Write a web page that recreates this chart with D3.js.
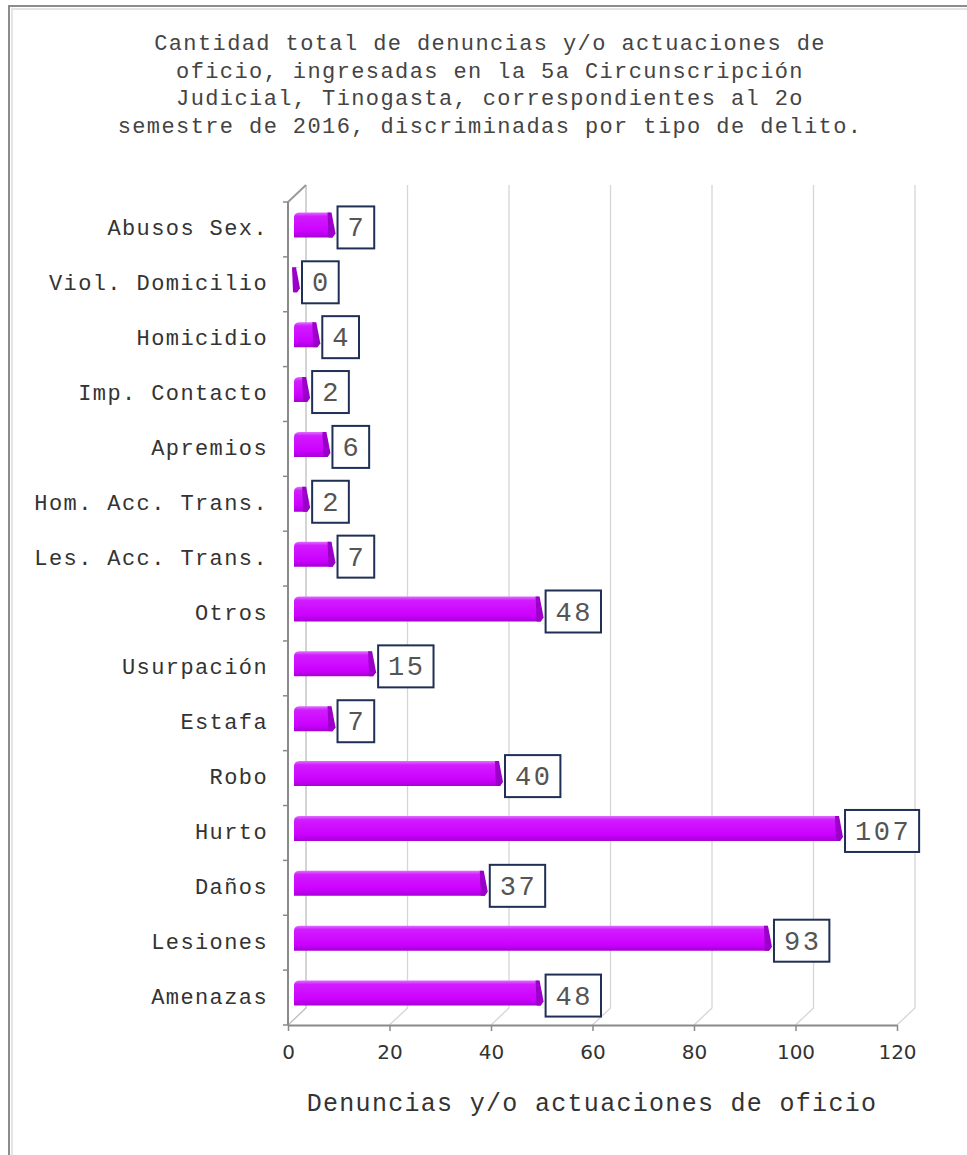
<!DOCTYPE html>
<html>
<head>
<meta charset="utf-8">
<script src="https://cdn.jsdelivr.net/npm/d3@7"></script>
<style>
  body { margin: 0; background: #fff; }
  svg { display: block; }
</style>
</head>
<body>
<div id="chart"></div>
<script>
// data (top to bottom)
const categories = [
  "Abusos Sex.", "Viol. Domicilio", "Homicidio", "Imp. Contacto", "Apremios",
  "Hom. Acc. Trans.", "Les. Acc. Trans.", "Otros", "Usurpación", "Estafa",
  "Robo", "Hurto", "Daños", "Lesiones", "Amenazas"
];
const values = [7, 0, 4, 2, 6, 2, 7, 48, 15, 7, 40, 107, 37, 93, 48];
const xTicks = [0, 20, 40, 60, 80, 100, 120];
const titleLines = [
  "Cantidad total de denuncias y/o actuaciones de",
  "oficio, ingresadas en la 5a Circunscripción",
  "Judicial, Tinogasta, correspondientes al 2o",
  "semestre de 2016, discriminadas por tipo de delito."
];
const xTitle = "Denuncias y/o actuaciones de oficio";

const width = 967, height = 1155;
const mono = "'Liberation Mono', 'DejaVu Sans Mono', monospace";
const dx = 18, dy = -17; // 3d depth offset

const svg = d3.select("#chart").append("svg")
  .attr("width", width)
  .attr("height", height);

// outer frame (only top and left edges show in the picture)
svg.append("path")
  .attr("d", `M9,${height + 5} V6 H${width + 5}`)
  .attr("fill", "none")
  .attr("stroke", "#8c8c8c")
  .attr("stroke-width", 2);
svg.append("path")
  .attr("d", `M12,${height + 5} V9 H${width + 5}`)
  .attr("fill", "none")
  .attr("stroke", "#e4e4e4")
  .attr("stroke-width", 2);

// title
svg.append("g").selectAll("text")
  .data(titleLines)
  .enter().append("text")
  .attr("x", 490)
  .attr("y", (d, i) => 50 + i * 27.5)
  .attr("text-anchor", "middle")
  .style("font-family", mono)
  .style("font-size", "22px")
  .style("letter-spacing", "1.4px")
  .style("fill", "#444")
  .text(d => d);

const x = d3.scaleLinear().domain([0, 120]).range([288, 897]);
const y = d3.scaleBand().domain(categories).range([202, 1025]);
const yTop = y.range()[0], yBot = y.range()[1];

// back wall gridlines + floor diagonals
const grid = svg.append("g");
xTicks.forEach(t => {
  grid.append("path")
    .attr("d", `M${x(t)},${yBot} L${x(t) + dx},${yBot + dy} V${yTop + dy}`)
    .attr("fill", "none")
    .attr("stroke", t === 0 ? "#bdbdbd" : "#d6d6d6")
    .attr("stroke-width", 1.3);
});

// left wall
svg.append("path")
  .attr("d", `M${x(0)},${yTop} L${x(0) + dx},${yTop + dy}`)
  .attr("stroke", "#9a9a9a")
  .attr("stroke-width", 2)
  .attr("fill", "none");
svg.append("line")
  .attr("x1", x(0)).attr("x2", x(0))
  .attr("y1", yTop).attr("y2", yBot)
  .attr("stroke", "#8a8a8a")
  .attr("stroke-width", 2);

// y ticks at band boundaries
svg.append("g").selectAll("line")
  .data(categories.concat(["__end"]))
  .enter().append("line")
  .attr("x1", x(0) - 5).attr("x2", x(0))
  .attr("y1", d => d === "__end" ? yBot : y(d))
  .attr("y2", d => d === "__end" ? yBot : y(d))
  .attr("stroke", "#8a8a8a")
  .attr("stroke-width", 1.5);

// category labels
svg.append("g").selectAll("text")
  .data(categories)
  .enter().append("text")
  .attr("x", 268)
  .attr("y", d => y(d) + y.bandwidth() / 2 + 6)
  .attr("text-anchor", "end")
  .style("font-family", mono)
  .style("font-size", "22px")
  .style("letter-spacing", "1.4px")
  .style("fill", "#333")
  .text(d => d);

// x axis
const xAxis = svg.append("g")
  .attr("transform", `translate(0,${yBot})`)
  .call(d3.axisBottom(x).tickValues(xTicks).tickSize(6).tickSizeOuter(0).tickPadding(14));
xAxis.select(".domain").attr("stroke", "#8a8a8a").attr("stroke-width", 2);
xAxis.selectAll(".tick line").attr("stroke", "#8a8a8a").attr("stroke-width", 1.5);
xAxis.selectAll(".tick text")
  .attr("font-family", "'DejaVu Sans', Verdana, sans-serif")
  .attr("font-size", 20)
  .attr("fill", "#333");

svg.append("text")
  .attr("x", 592)
  .attr("y", 1111)
  .attr("text-anchor", "middle")
  .style("font-family", mono)
  .style("font-size", "25px")
  .style("letter-spacing", "1.3px")
  .style("fill", "#333")
  .text(xTitle);

// bar gradient
const defs = svg.append("defs");
const grad = defs.append("linearGradient")
  .attr("id", "barGrad")
  .attr("x1", 0).attr("y1", 0).attr("x2", 0).attr("y2", 1);
grad.append("stop").attr("offset", "0%").attr("stop-color", "#e070ff");
grad.append("stop").attr("offset", "15%").attr("stop-color", "#d21cff");
grad.append("stop").attr("offset", "75%").attr("stop-color", "#cc00ff");
grad.append("stop").attr("offset", "100%").attr("stop-color", "#a600d4");

const data = categories.map((c, i) => ({ cat: c, value: values[i] }));
const barH = 26;
const bars = svg.append("g").selectAll("g")
  .data(data)
  .enter().append("g")
  .attr("transform", d => `translate(0,${y(d.cat) + y.bandwidth() / 2 - 5 - barH / 2})`);

const barStart = x(0) + 6;
const barEnd = d => x(d.value) + 11;

bars.append("path")
  .attr("d", d => {
    const x0 = barStart, x1 = Math.max(barEnd(d), x0 + 4);
    return `M${x0},${barH} V6 Q${x0},1 ${x0 + 6},1 H${x1 - 4} L${x1},${barH - 3} L${x1 - 2},${barH} Z`;
  })
  .attr("fill", "url(#barGrad)");

// darker end face
bars.append("path")
  .attr("d", d => {
    const x1 = Math.max(barEnd(d), barStart + 4);
    return `M${x1 - 7},1 H${x1 - 3} L${x1 + 1},${barH - 4} L${x1 - 2},${barH} H${x1 - 6} Z`;
  })
  .attr("fill", "#9a00c8");

// value label boxes
const charW = 18.7, pad = 9, boxH = 42;
const labels = svg.append("g").selectAll("g")
  .data(data)
  .enter().append("g")
  .attr("transform", d => `translate(${x(d.value) + 14},${y(d.cat) + y.bandwidth() / 2 - 2 - boxH / 2})`);

labels.append("rect")
  .attr("width", d => String(d.value).length * charW + pad * 2)
  .attr("height", boxH)
  .attr("fill", "#fff")
  .attr("stroke", "#1f2f55")
  .attr("stroke-width", 2);

labels.append("text")
  .attr("x", d => (String(d.value).length * charW + pad * 2) / 2 + 1)
  .attr("y", boxH / 2 + 9)
  .attr("text-anchor", "middle")
  .style("font-family", mono)
  .style("font-size", "27px")
  .style("letter-spacing", "2.5px")
  .style("fill", "#555")
  .text(d => d.value);
</script>
</body>
</html>
